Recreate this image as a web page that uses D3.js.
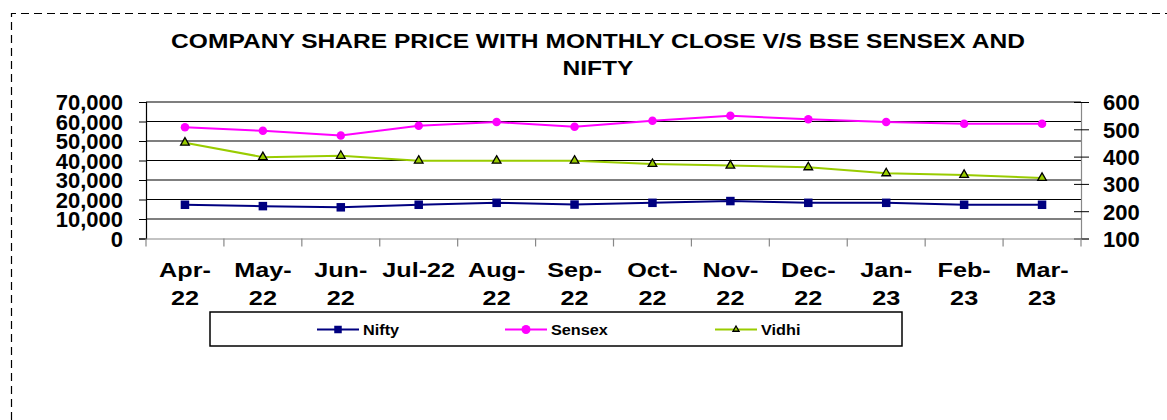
<!DOCTYPE html>
<html>
<head>
<meta charset="utf-8">
<script src="https://cdn.jsdelivr.net/npm/d3@7"></script>
<style>
  body { margin: 0; background: #fff; }
  svg { display: block; font-family: "Liberation Sans", Arial, sans-serif; font-weight: bold; }
</style>
</head>
<body>
<svg id="chart" width="1167" height="420"></svg>
<script>
// month labels
let categories = ["Apr-22","May-22","Jun-22","Jul-22","Aug-22","Sep-22","Oct-22","Nov-22","Dec-22","Jan-23","Feb-23","Mar-23"];
// index values (left axis)
let nifty  = [17300, 16600, 16000, 17300, 18300, 17400, 18300, 19200, 18300, 18300, 17300, 17300];
let sensex = [57100, 55200, 52800, 57800, 59700, 57300, 60400, 62900, 61200, 59700, 58800, 58800];
// company share price (right axis)
let vidhi  = [451, 398, 403, 385, 385, 385, 373, 367, 361, 339, 333, 322];
let leftTicks  = [0, 10000, 20000, 30000, 40000, 50000, 60000, 70000];
let rightTicks = [100, 200, 300, 400, 500, 600];
let titleLines = ["COMPANY SHARE PRICE WITH MONTHLY CLOSE V/S BSE SENSEX AND", "NIFTY"];

function drawChart(){
    let svg = d3.select("#chart");
    let left = 146, right = 1081, top = 102, bottom = 238.5;
    let stretch = 1.17;

    // dashed frame, open on the right and bottom
    svg.append("path")
        .attr("d", "M11.5,420 V13.5 H1167")
        .attr("fill", "none")
        .attr("stroke", "#000")
        .attr("stroke-width", 1.2)
        .attr("stroke-dasharray", "8,5");

    // title
    svg.selectAll("text.title")
        .data(titleLines)
        .join("text")
        .attr("class", "title")
        .attr("transform", (d, i) => "translate(598," + (48 + i * 27) + ") scale(" + stretch + ",1)")
        .attr("text-anchor", "middle")
        .style("font-size", "21px")
        .text(d => d);

    let x = d3.scaleBand().domain(categories).range([left, right]);
    let yL = d3.scaleLinear().domain([0, 70000]).range([bottom, top]);
    let yR = d3.scaleLinear().domain([100, 600]).range([bottom, top]);

    // gridlines
    svg.append("g").selectAll("line")
        .data(leftTicks.slice(1))
        .join("line")
        .attr("x1", left).attr("x2", right)
        .attr("y1", d => yL(d)).attr("y2", d => yL(d))
        .attr("stroke", "#000").attr("stroke-width", 1.2);

    // left axis
    let gL = svg.append("g").attr("transform", "translate(" + left + ",0)")
        .call(d3.axisLeft(yL).tickValues(leftTicks).tickSize(7).tickPadding(16).tickFormat(d3.format(",")));
    gL.select(".domain").attr("stroke", "#000").attr("stroke-width", 1.2);
    gL.selectAll(".tick line").attr("stroke", "#000");
    gL.selectAll("text").style("font-size", "22px").attr("font-family", null).attr("dy", "0.36em");

    // right axis
    let gR = svg.append("g").attr("transform", "translate(" + right + ",0)")
        .call(d3.axisRight(yR).tickValues(rightTicks).tickSize(8).tickPadding(14));
    gR.select(".domain").attr("stroke", "#888").attr("stroke-width", 1.2);
    gR.selectAll(".tick line").attr("x1", -7).attr("stroke", "#000");
    gR.selectAll("text").style("font-size", "22px").attr("font-family", null).attr("dy", "0.36em");

    // bottom axis
    let gB = svg.append("g").attr("transform", "translate(0," + bottom + ")")
        .call(d3.axisBottom(x).tickValues([]).tickSizeOuter(0));
    gB.select(".domain").attr("stroke", "#888").attr("stroke-width", 1.2);
    gB.selectAll("line.cat")
        .data(d3.range(categories.length + 1))
        .join("line")
        .attr("class", "cat")
        .attr("x1", i => left + i * x.step()).attr("x2", i => left + i * x.step())
        .attr("y1", 0).attr("y2", 8)
        .attr("stroke", "#888").attr("stroke-width", 1.2);

    // category labels, wrapped like the original
    let lab = svg.append("g").selectAll("text")
        .data(categories)
        .join("text")
        .attr("transform", d => "translate(" + (x(d) + x.bandwidth() / 2) + ",277) scale(1.2,1)")
        .attr("text-anchor", "middle")
        .style("font-size", "21px");
    lab.each(function(d){
        let lines = d === "Jul-22" ? [d] : [d.slice(0, 4), d.slice(4)];
        d3.select(this).selectAll("tspan")
            .data(lines)
            .join("tspan")
            .attr("x", 0)
            .attr("y", (l, i) => i * 28)
            .text(l => l);
    });

    let cx = d => x(d) + x.bandwidth() / 2;

    let series = [
        {name: "Nifty",  values: nifty,  y: yL, color: "#000080", shape: "square"},
        {name: "Sensex", values: sensex, y: yL, color: "#FF00FF", shape: "circle"},
        {name: "Vidhi",  values: vidhi,  y: yR, color: "#99CC00", shape: "triangle"}
    ];

    function marker(sel, s, size){
        if(s.shape == "square"){
            sel.append("rect")
                .attr("x", -size / 2).attr("y", -size / 2)
                .attr("width", size).attr("height", size)
                .attr("fill", s.color);
        }
        else if(s.shape == "circle"){
            sel.append("circle").attr("r", size / 2).attr("fill", s.color);
        }
        else {
            sel.append("path")
                .attr("d", d3.symbol(d3.symbolTriangle, size * size * 0.45)())
                .attr("fill", s.color)
                .attr("stroke", "#000").attr("stroke-width", 1.3);
        }
    }

    series.forEach(function(s){
        let line = d3.line().x((v, i) => cx(categories[i])).y(v => s.y(v));
        svg.append("path")
            .datum(s.values)
            .attr("d", line)
            .attr("fill", "none")
            .attr("stroke", s.color)
            .attr("stroke-width", 2);
        svg.append("g").selectAll("g")
            .data(s.values)
            .join("g")
            .attr("transform", (v, i) => "translate(" + cx(categories[i]) + "," + s.y(v) + ")")
            .each(function(){ marker(d3.select(this), s, 8.5); });
    });

    // legend
    svg.append("rect")
        .attr("x", 210).attr("y", 312)
        .attr("width", 692).attr("height", 34)
        .attr("fill", "#fff")
        .attr("stroke", "#000").attr("stroke-width", 1.5);
    let legendX = [317, 505, 715];
    series.forEach(function(s, i){
        let g = svg.append("g").attr("transform", "translate(" + legendX[i] + ",329.5)");
        g.append("line").attr("x1", 0).attr("x2", 42)
            .attr("stroke", s.color).attr("stroke-width", 2);
        let m = g.append("g").attr("transform", "translate(21,0)");
        marker(m, s, s.shape == "triangle" ? 6 : (s.shape == "circle" ? 9 : 7.5));
        g.append("text")
            .attr("transform", "translate(" + (s.shape == "triangle" ? 46 : 46) + ",5) scale(1.16,1)")
            .style("font-size", "14px")
            .text(s.name);
    });
}
drawChart();
</script>
</body>
</html>
